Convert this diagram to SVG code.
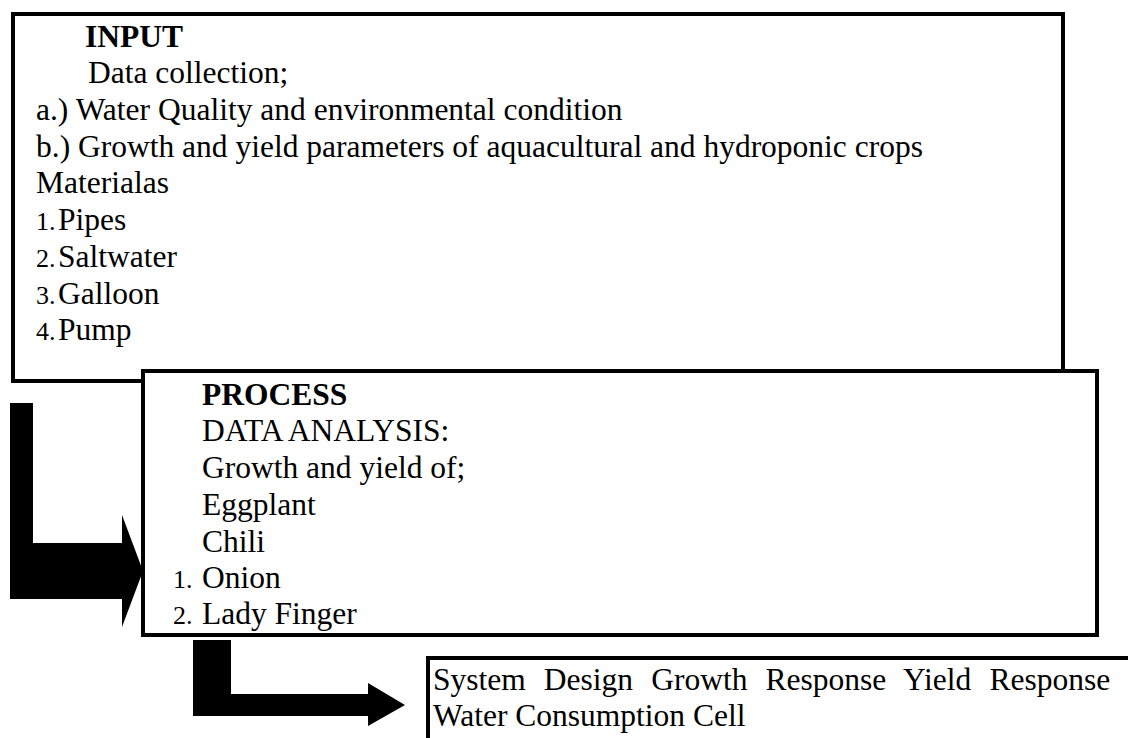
<svg xmlns="http://www.w3.org/2000/svg" width="1128" height="738" viewBox="0 0 1128 738">
<style>
.box{fill:#fff;stroke:#000;stroke-width:4;stroke-linejoin:miter}
.t{font-family:"Liberation Serif","Times New Roman",serif;font-size:31.5px;fill:#000}
.b{font-weight:bold}
.n{font-size:26px}
.arr{fill:#000;stroke:none}
</style>
<rect width="1128" height="738" fill="#fff"/>
<g id="input">
<rect class="box" x="13" y="14" width="1050" height="367"/>
<text class="t b" x="85" y="47">INPUT</text>
<text class="t" x="88" y="83">Data collection;</text>
<text class="t" x="36" y="120">a.) Water Quality and environmental condition</text>
<text class="t" x="36" y="157">b.) Growth and yield parameters of aquacultural and hydroponic crops</text>
<text class="t" x="36" y="193">Materialas</text>
<text class="t n" x="36" y="230">1.</text><text class="t" x="58" y="230">Pipes</text>
<text class="t n" x="36" y="267">2.</text><text class="t" x="58" y="267">Saltwater</text>
<text class="t n" x="36" y="304">3.</text><text class="t" x="58" y="304">Galloon</text>
<text class="t n" x="36" y="340">4.</text><text class="t" x="58" y="340">Pump</text>
</g>
<g id="process">
<rect class="box" x="143" y="371" width="954" height="264"/>
<text class="t b" x="202" y="405">PROCESS</text>
<text class="t" x="202" y="441">DATA ANALYSIS:</text>
<text class="t" x="202" y="478">Growth and yield of;</text>
<text class="t" x="202" y="515">Eggplant</text>
<text class="t" x="202" y="552">Chili</text>
<text class="t n" x="173" y="588">1.</text><text class="t" x="202" y="588">Onion</text>
<text class="t n" x="173" y="624">2.</text><text class="t" x="202" y="624">Lady Finger</text>
</g>
<g id="output">
<path d="M428,742 L428,658 L1132,658" fill="#fff" stroke="#000" stroke-width="4"/>
<text class="t" x="433" y="690" word-spacing="10.2">System Design Growth Response Yield Response</text>
<text class="t" x="433" y="726">Water Consumption Cell</text>
</g>
<g id="connectors">
<polygon class="arr" points="10,403 33,403 33,543 122,543 122,515 143,571 122,627 122,599 10,599"/>
<polygon class="arr" points="193,640 231,640 231,694 368,694 368,683 405,705 368,726 368,716 193,716"/>
</g>
</svg>
